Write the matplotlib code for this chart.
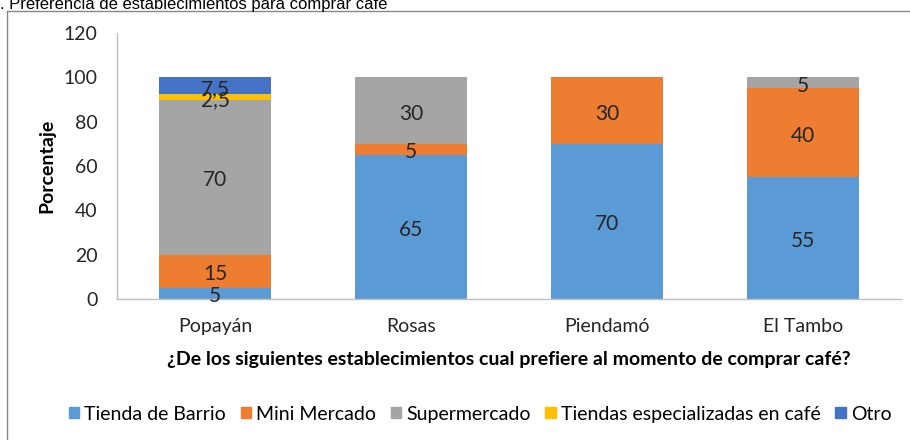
import matplotlib
matplotlib.use("Agg")
import matplotlib.pyplot as plt
from matplotlib.patches import Rectangle
from matplotlib.lines import Line2D
import matplotlib.transforms as mtransforms
import numpy as np

categories = ["Popayán", "Rosas", "Piendamó", "El Tambo"]
series_names = ["Tienda de Barrio", "Mini Mercado", "Supermercado",
                "Tiendas especializadas en café", "Otro"]
tienda_barrio = [5, 65, 70, 55]
mini_mercado = [15, 5, 30, 40]
supermercado = [70, 30, 0, 5]
especializadas = [2.5, 0, 0, 0]
otro = [7.5, 0, 0, 0]
yticks = [0, 20, 40, 60, 80, 100, 120]
colors = ["#5B9BD5", "#ED7D31", "#A5A5A5", "#FFC000", "#4472C4"]

series = [tienda_barrio, mini_mercado, supermercado, especializadas, otro]

W, H = 910, 440
fig = plt.figure(figsize=(W / 100, H / 100), dpi=100)
font = "Lato"
plt.rcParams['font.family'] = [font, 'DejaVu Sans']

# plot area in pixels
x0, x1 = 117, 901
y0, y1 = 33, 299
ax = fig.add_axes([x0 / W, 1 - y1 / H, (x1 - x0) / W, (y1 - y0) / H])

shift = mtransforms.offset_copy(ax.transData, fig=fig, x=0, y=-3, units="dots")
x = np.arange(len(categories))
bottom = np.zeros(len(categories))
for name, vals, c in zip(series_names, series, colors):
    vals = np.array(vals, dtype=float)
    ax.bar(x, vals, 0.57, bottom=bottom, color=c, label=name, zorder=2)
    for xi, v, b in zip(x, vals, bottom):
        if v > 0:
            txt = ("%g" % v).replace(".", ",")
            ax.text(xi, b + v / 2, txt, ha="center", va="center",
                    fontsize=15, color="#262626", zorder=3, transform=shift)
    bottom += vals

ax.set_xlim(-0.5, len(categories) - 0.5)
ax.set_ylim(0, 120)
ax.set_yticks(yticks)
ax.set_yticklabels([str(t) for t in yticks], fontsize=14, color="#262626")
ax.set_xticks(x)
ax.set_xticklabels(categories, fontsize=14, color="#262626")
ax.tick_params(axis="y", length=0, pad=14)
ax.tick_params(axis="x", length=0, pad=14)
for s in ["top", "right"]:
    ax.spines[s].set_visible(False)
ax.spines["left"].set_color("#BFBFBF")
ax.spines["bottom"].set_color("#BFBFBF")
ax.spines["left"].set_linewidth(1)
ax.spines["bottom"].set_linewidth(1)
ax.set_ylabel("Porcentaje", fontsize=14, fontweight="bold", labelpad=6)
ax.set_xlabel("¿De los siguientes establecimientos cual prefiere al momento de comprar café?",
              fontsize=14, fontweight="bold", labelpad=11)

handles = [Rectangle((0, 0), 1, 1, color=c) for c in colors]
fig.legend(handles, series_names, loc="center", bbox_to_anchor=(480 / W, 1 - 414 / H),
           ncol=5, frameon=False, fontsize=14, handlelength=0.55, handleheight=0.55,
           handletextpad=0.25, columnspacing=0.75)

# outer border (left and top only visible)
fig.add_artist(Line2D([7 / W, 7 / W], [0, 1 - 11 / H], transform=fig.transFigure,
                      color="#888888", lw=1))
fig.add_artist(Line2D([7 / W, 1], [1 - 11 / H, 1 - 11 / H], transform=fig.transFigure,
                      color="#888888", lw=1))

fig.text(0 / W, 1 - 9 / H, ". Preferencia de establecimientos para comprar café",
         fontsize=12, family=["Liberation Sans", "DejaVu Sans"],
         va="baseline", ha="left", color="black")

fig.savefig("out.png", dpi=100)
